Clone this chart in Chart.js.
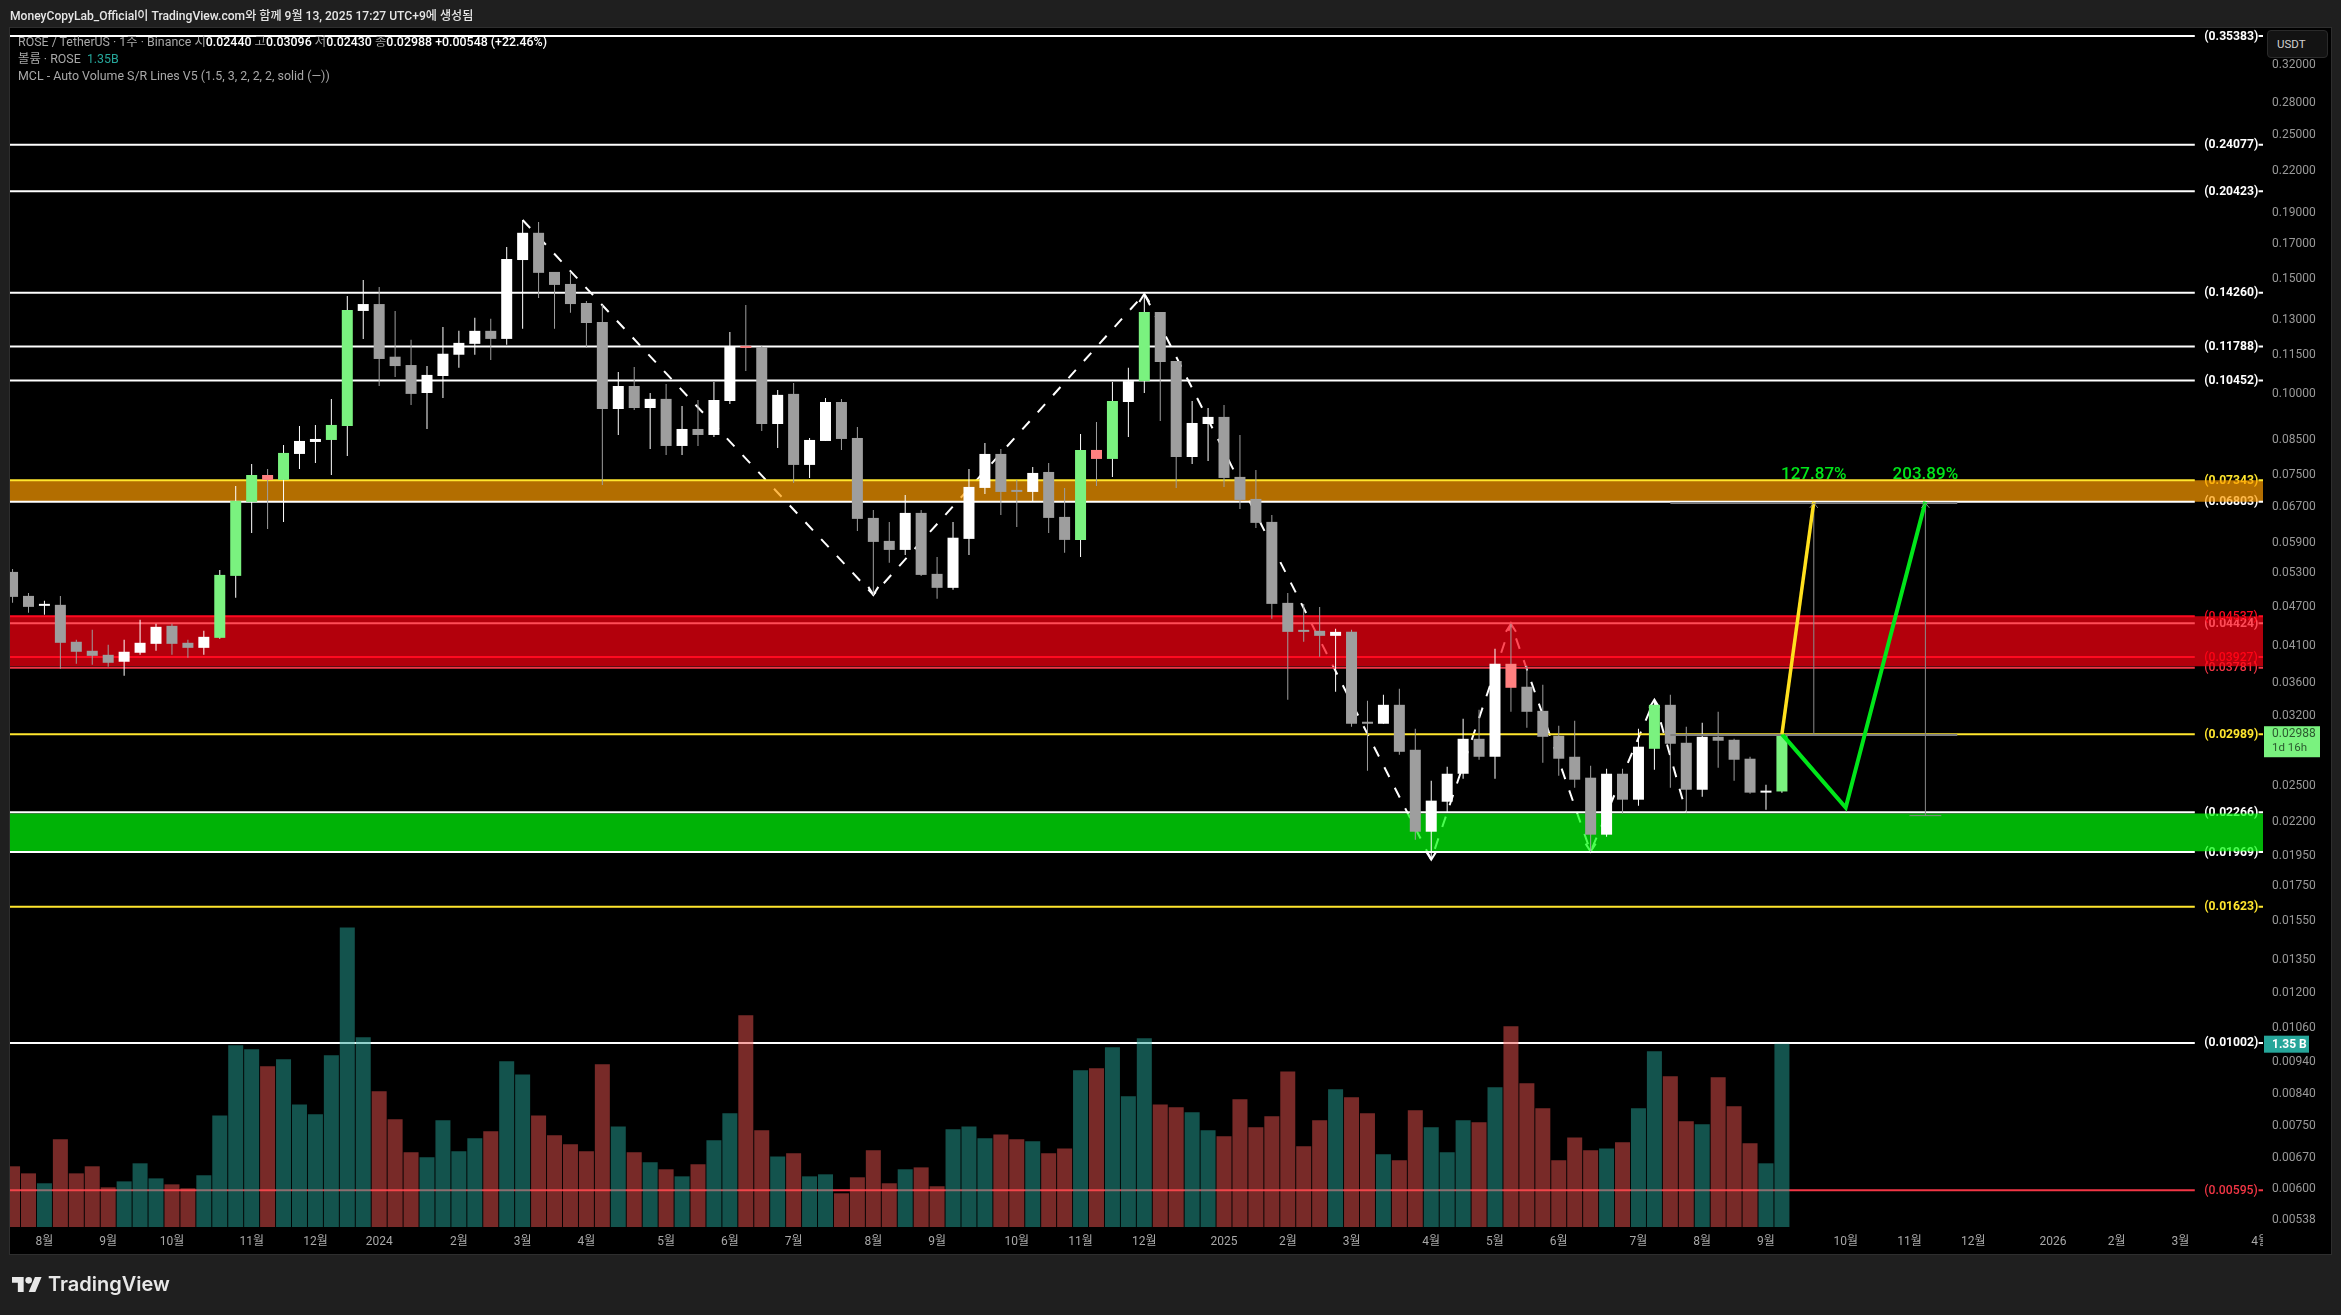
<!DOCTYPE html>
<html>
<head>
<meta charset="utf-8">
<title>ROSE / TetherUS</title>
<script src="https://cdn.jsdelivr.net/npm/chart.js@4/dist/chart.umd.js"></script>
<style>
  html, body { margin: 0; padding: 0; background: #1f1f1f; overflow: hidden; }
  #page { position: relative; width: 2341px; height: 1315px; font-family: Roboto, "Noto Sans CJK KR", sans-serif; }
  #pane { position: absolute; left: 9px; top: 27px; width: 2321px; height: 1226px; background: #000; border: 1px solid #2e2e2e; }
  canvas { position: absolute; left: 0; top: 0; }
  .txt { position: absolute; white-space: nowrap; }
  #credit { left: 10px; top: 6px; font-size: 12.1px; font-weight: 500; color: #e6e6e6; }
  .legend { left: 18px; font-size: 12.4px; line-height: 16px; color: #a8a8a8; }
  .legend b { color: #fff; font-weight: 500; }
  #usdt { position: absolute; left: 2267px; top: 30px; width: 59px; height: 26px; background: #131313; border: 1px solid #2a2a2a; border-radius: 4px; color: #d0d0d0; font-size: 11.5px; line-height: 26px; text-indent: 9px; }
  #logo { position: absolute; left: 12px; top: 1277px; }
  #brand { left: 48px; top: 1272px; font-family: Inter, sans-serif; font-weight: 600; font-size: 20px; color: #e8e8e8; }
</style>
</head>
<body>
<div id="page">
  <div id="pane"></div>
  <canvas id="chart" width="2341" height="1315"></canvas>
  <div class="txt" id="credit">MoneyCopyLab_Official이 TradingView.com와 함께 9월 13, 2025 17:27 UTC+9에 생성됨</div>
  <div class="txt legend" style="top:34px">ROSE / TetherUS · 1주 · Binance 시<b>0.02440</b> 고<b>0.03096</b> 저<b>0.02430</b> 종<b>0.02988</b> <b>+0.00548 (+22.46%)</b></div>
  <div class="txt legend" style="top:51px">볼륨 · ROSE &nbsp;<span style="color:#26a69a">1.35B</span></div>
  <div class="txt legend" style="top:68px">MCL - Auto Volume S/R Lines V5 (1.5, 3, 2, 2, 2, solid (—))</div>
  <div id="usdt">USDT</div>
  <svg id="logo" width="30" height="15" viewBox="0 4 36 18"><path fill="#e8e8e8" d="M14 22H7V11H0V4h14v18zM28 22h-8l7.5-18h8L28 22z"/><circle fill="#e8e8e8" cx="20" cy="8" r="4"/></svg>
  <div class="txt" id="brand">TradingView</div>
</div>
<script>
// weekly candles
const opens = [.05308,.04876,.04707,.04724,.04145,.04015,.03958,.03862,.03987,.04115,.04386,.04130,.04057,.04203,.05234,.06801,.07481,.07351,.08059,.08408,.08468,.08898,.1337,.1370,.1137,.1104,.1000,.1062,.1145,.1190,.1246,.1211,.1601,.1763,.1535,.1471,.1375,.1286,.09449,.1025,.09483,.09793,.08290,.08804,.08619,.09721,.1177,.1177,.08961,.09968,.07752,.08438,.09686,.08528,.06426,.05924,.05738,.06541,.05271,.05017,.05966,.07146,.08059,.07070,.07045,.07561,.06449,.05945,.08174,.07918,.09686,.1043,.1332,.1120,.07973,.08961,.09188,.07430,.06873,.06336,.04757,.04309,.04309,.04233,.04293,.03112,.03101,.03316,.02828,.02116,.02353,.02598,.02940,.02759,.03834,.03535,.03246,.02972,.02759,.02562,.02094,.02598,.02370,.02838,.03316,.02899,.02455,.02961,.02930,.02740,.02430,.02440];
const closes = [.04859,.04690,.04724,.04130,.04001,.03944,.03848,.04001,.04130,.04370,.04115,.04057,.04218,.05252,.06825,.07481,.07351,.08088,.08438,.08498,.08930,.1342,.1370,.1128,.1100,.09968,.1066,.1149,.1194,.1246,.1211,.1607,.1763,.1530,.1466,.1370,.1281,.09449,.1025,.09483,.09793,.08290,.08804,.08619,.09755,.1177,.1173,.08961,.09933,.07752,.08468,.09686,.08498,.06404,.05903,.05738,.06541,.05252,.05017,.05991,.07171,.08059,.07045,.07045,.07535,.06426,.05945,.08174,.07918,.09721,.1043,.1332,.1116,.07973,.08993,.09188,.07403,.06849,.06314,.04740,.04293,.04293,.04233,.04293,.03101,.03101,.03316,.02808,.02116,.02362,.02598,.02940,.02759,.03834,.03522,.03235,.02961,.02740,.02544,.02094,.02598,.02370,.02859,.03316,.02889,.02455,.02961,.02920,.02730,.02430,.02438,.02988];
const highs = [.05365,.04928,.04791,.04876,.04174,.04324,.04101,.04174,.04480,.04417,.04417,.04174,.04309,.05346,.07197,.07779,.07643,.08319,.08898,.08930,.09793,.1410,.1492,.1455,.1337,.1207,.1100,.1263,.1246,.1305,.1300,.1677,.1845,.1832,.1535,.1535,.1385,.1366,.1077,.1096,.1000,.1032,.09550,.09755,.1040,.1241,.1366,.1182,.1011,.1036,.08528,.09828,.09793,.08867,.06611,.06336,.06971,.06611,.05598,.06336,.07643,.08378,.08203,.07351,.07697,.07807,.07146,.08650,.09025,.1040,.1093,.1420,.1332,.1120,.09721,.09483,.09584,.08619,.07615,.06495,.04928,.04740,.04690,.04339,.04324,.03364,.03436,.03510,.03047,.02535,.02663,.03156,.03258,.04043,.04417,.03807,.03559,.03079,.03134,.02673,.02644,.02644,.03047,.03376,.03436,.03068,.03112,.03235,.02940,.02759,.02499,.02988];
const lows = [.04757,.04592,.04560,.03767,.03834,.03821,.03794,.03675,.03958,.04015,.03958,.03917,.03958,.04189,.04842,.06094,.06181,.06336,.07643,.07807,.07481,.08002,.1211,.1025,.1058,.09584,.08804,.09828,.1093,.1145,.1124,.1186,.1255,.1400,.1255,.1328,.1173,.07222,.08619,.09416,.08203,.08031,.08031,.08290,.08558,.09618,.1081,.08742,.08232,.07274,.07403,.08438,.08174,.06137,.04894,.05481,.05637,.05234,.04825,.04981,.05637,.06995,.06495,.06225,.06825,.06094,.05678,.05598,.07197,.07430,.08558,.1000,.09057,.07146,.07779,.07862,.07171,.06634,.06203,.04496,.03376,.04145,.03930,.03473,.03068,.02626,.03101,.02779,.02057,.01917,.02264,.02553,.02730,.02553,.03235,.03057,.02701,.02579,.02473,.01972,.02079,.02256,.02320,.02635,.02473,.02264,.02395,.02653,.02535,.02421,.02288,.02430];
// weeks the indicator paints bright
const surgeWeeks = [13,14,15,17,20,21,67,69,71,103,111];
const dropWeeks = [16,46,68,94];
// volume in billions
const volumes = [.447,.395,.322,.646,.395,.447,.292,.336,.469,.358,.314,.285,.381,.822,1.338,1.309,1.183,1.235,.903,.830,1.264,2.205,1.397,.999,.793,.550,.513,.786,.557,.653,.705,1.220,1.124,.822,.675,.609,.557,1.198,.741,.550,.476,.425,.373,.462,.638,.837,1.559,.712,.520,.543,.373,.388,.248,.366,.565,.322,.425,.439,.300,.719,.741,.653,.682,.646,.631,.543,.579,1.154,1.169,1.323,.962,1.390,.903,.881,.845,.712,.668,.940,.734,.815,1.146,.594,.786,1.014,.955,.837,.535,.491,.859,.734,.550,.786,.771,1.029,1.478,1.058,.874,.491,.660,.565,.579,.624,.874,1.294,1.110,.778,.756,1.102,.889,.616,.469,1.35];

const monthWeeks = [2,6,10,15,19,23,28,32,36,41,45,49,54,58,63,67,71,76,80,84,89,93,97,102,106,110,115,119,123,128,132,136,141];
const monthLabels = ['8월','9월','10월','11월','12월','2024','2월','3월','4월','5월','6월','7월','8월','9월','10월','11월','12월','2025','2월','3월','4월','5월','6월','7월','8월','9월','10월','11월','12월','2026','2월','3월','4월'];
const priceTicks = [.32,.28,.25,.22,.19,.17,.15,.13,.115,.1,.085,.075,.067,.059,.053,.047,.041,.036,.032,.025,.022,.0195,.0175,.0155,.0135,.012,.0106,.0094,.0084,.0075,.0067,.006,.00538];

// auto S/R levels
const whiteLevels = [.35383,.24077,.20423,.14260,.11788,.10452,.06803,.04424,.02266,.01969,.01002];
const yellowLevels = [.07343,.02989,.01623];
const redLevels = [.04537,.03927,.03781,.00595];

// dashed zigzag pivots
const pivotWeeks = [32,54,71,89,94,99,103,105];
const pivotPrices = [.1845,.04894,.1420,.01917,.04417,.01972,.03376,.02264];

// drawn projection
const yellowWeeks = [111,113];
const yellowPrices = [.02989,.06803];
const greenWeeks = [111,115,120];
const greenPrices = [.02989,.02304,.06803];
const gainLabels = ['127.87%','203.89%'];
const gainWeeks = [113,120];

const xMin = -0.16, xMax = 141.18;
const lineEnd = 136.9, labelStart = 137.5, dashStart = 140.9;
const LABEL_FONT = 'Roboto, "Noto Sans CJK KR", sans-serif';

const upColor = '#ffffff', downColor = '#9e9e9e', surgeColor = '#7af27f', dropColor = '#ff8080';

function levelColor(v) {
  if (yellowLevels.includes(v)) return '#ffe62e';
  if (v === .04537 || v === .03927) return '#ff0a20';
  if (redLevels.includes(v)) return '#f23645';
  return '#ffffff';
}

function lineSet(points, extra) {
  return Object.assign({ type: 'line', data: points, borderWidth: 2, pointRadius: 0, tension: 0, fill: false, yAxisID: 'y' }, extra);
}

function levelSet(v) {
  // this white level runs under the red zone, so it comes out pink
  const c = v === .04424 ? '#ff4d58' : levelColor(v);
  return lineSet([{x: xMin, y: v}, {x: lineEnd, y: v}, {x: dashStart, y: null}, {x: dashStart, y: v}, {x: xMax, y: v}], { borderColor: c, order: 5 });
}

function bandSets(top, bottom, color) {
  return [
    lineSet([{x: xMin, y: top}, {x: xMax, y: top}], { borderWidth: 0, fill: '+1', backgroundColor: color, order: 6 }),
    lineSet([{x: xMin, y: bottom}, {x: xMax, y: bottom}], { borderWidth: 0, order: 6 })
  ];
}

const weeks = opens.map((o, i) => i);

function candleColor(i) {
  if (surgeWeeks.includes(i)) return surgeColor;
  if (dropWeeks.includes(i)) return dropColor;
  return closes[i] >= opens[i] ? upColor : downColor;
}

const datasets = [
  lineSet(pivotWeeks.map((w, i) => ({x: w, y: pivotPrices[i]})), { borderColor: '#fff', borderDash: [11, 12], order: 7 }),
  ...bandSets(.07343, .06803, 'rgba(255,157,0,.7)'),
  ...bandSets(.04537, .03800, 'rgba(255,0,17,.7)'),
  ...bandSets(.02256, .01975, 'rgba(0,255,9,.7)'),
  ...[...whiteLevels, ...yellowLevels, ...redLevels].map(levelSet),
  {
    type: 'bar', yAxisID: 'vol', order: 4, grouped: false, barThickness: 15, inflateAmount: 0,
    data: volumes.map((v, i) => ({x: i, y: v})),
    backgroundColor: weeks.map(i => closes[i] >= opens[i] ? 'rgba(38,166,154,.5)' : 'rgba(239,83,80,.5)')
  },
  {
    type: 'bar', yAxisID: 'y', order: 3, grouped: false, barThickness: 1, inflateAmount: 0,
    data: weeks.map(i => ({x: i, y: [lows[i], highs[i]]})),
    backgroundColor: weeks.map(i => closes[i] >= opens[i] ? '#ffffff' : downColor)
  },
  {
    type: 'bar', yAxisID: 'y', order: 2, grouped: false, barThickness: 11, inflateAmount: 0, minBarLength: 2,
    data: weeks.map(i => ({x: i, y: [opens[i], closes[i]]})),
    backgroundColor: weeks.map(candleColor)
  },
  lineSet([{x: 104, y: .06777}, {x: 122, y: .06777}], { borderColor: '#808080', order: 1.5 }),
  lineSet([{x: 104, y: .02979}, {x: 122, y: .02979}], { borderColor: '#808080', order: 1.5 }),
  lineSet([{x: 113, y: .02979}, {x: 113, y: .06777}], { borderColor: '#8a8a8a', borderWidth: 1, order: 1.5 }),
  lineSet([{x: 120, y: .0224}, {x: 120, y: .06777}], { borderColor: '#8a8a8a', borderWidth: 1, order: 1.5 }),
  lineSet([{x: 119, y: .0224}, {x: 121, y: .0224}], { borderColor: '#8a8a8a', borderWidth: 1, order: 1.5 }),
  lineSet(yellowWeeks.map((w, i) => ({x: w, y: yellowPrices[i]})), { borderColor: '#ffe01e', borderWidth: 3.5, order: 1 }),
  lineSet(greenWeeks.map((w, i) => ({x: w, y: greenPrices[i]})), { borderColor: '#00e61a', borderWidth: 4, order: 1 })
];

function chevron(c, px, py, dir, arm, rise) {
  c.beginPath();
  c.moveTo(px - arm, py + dir * rise);
  c.lineTo(px, py);
  c.lineTo(px + arm, py + dir * rise);
  c.stroke();
}

// level labels and pivot arrowheads sit under the coloured zones
const underLayer = {
  id: 'underLayer',
  beforeDatasetsDraw(chart) {
    const c = chart.ctx, x = chart.scales.x, y = chart.scales.y;
    c.save();
    c.textAlign = 'left';
    c.textBaseline = 'middle';
    [...whiteLevels, ...yellowLevels, ...redLevels].forEach(v => {
      c.font = (redLevels.includes(v) ? '500' : 'bold') + ' 12.2px ' + LABEL_FONT;
      c.fillStyle = levelColor(v);
      c.fillText('(' + v.toFixed(5) + ')', x.getPixelForValue(labelStart), y.getPixelForValue(v) + 0.5);
    });
    c.strokeStyle = '#fff';
    c.lineWidth = 2;
    pivotWeeks.forEach((w, i) => {
      if (i === 0 || i === pivotWeeks.length - 1) return;
      const dir = pivotPrices[i] < pivotPrices[i - 1] ? -1 : 1;
      chevron(c, x.getPixelForValue(w), y.getPixelForValue(pivotPrices[i]), dir, 5, 8);
    });
    c.textAlign = 'center';
    c.font = '500 17px ' + LABEL_FONT;
    c.fillStyle = '#00e61a';
    gainLabels.forEach((t, i) => c.fillText(t, x.getPixelForValue(gainWeeks[i]), 475));
    c.restore();
  }
};

// last price tags
const overLayer = {
  id: 'overLayer',
  afterDraw(chart) {
    const c = chart.ctx, x = chart.scales.x, y = chart.scales.y, vol = chart.scales.vol;
    c.save();
    c.fillStyle = '#000';
    c.fillRect(2263, 1228, 18, 25);
    c.strokeStyle = '#8a8a8a';
    c.lineWidth = 1;
    gainWeeks.forEach(w => chevron(c, x.getPixelForValue(w), y.getPixelForValue(.06777), 1, 4, 5));
    c.textBaseline = 'middle';

    const last = closes[closes.length - 1];
    const ly = y.getPixelForValue(last);
    c.fillStyle = surgeColor;
    c.fillRect(2264, ly - 8, 56, 31);
    c.textAlign = 'left';
    c.fillStyle = '#2c5a2f';
    c.font = '12px ' + LABEL_FONT;
    c.fillText(last.toFixed(5), 2272, ly);
    c.font = '11.5px ' + LABEL_FONT;
    c.fillText('1d 16h', 2272, ly + 14);

    const lastVol = volumes[volumes.length - 1];
    const vy = vol.getPixelForValue(lastVol);
    c.fillStyle = '#26a69a';
    c.fillRect(2264, vy - 8, 45, 17);
    c.fillStyle = '#fff';
    c.font = 'bold 12px ' + LABEL_FONT;
    c.fillText(lastVol.toFixed(2) + ' B', 2272, vy + 1);
    c.restore();
  }
};

const ctx = document.getElementById('chart');

new Chart(ctx, {
  type: 'line',
  data: { datasets: datasets },
  plugins: [underLayer, overLayer],
  options: {
    responsive: false,
    animation: false,
    devicePixelRatio: 1,
    layout: { padding: { left: 10, top: 28, right: 10, bottom: 61 } },
    plugins: { legend: { display: false }, tooltip: { enabled: false } },
    scales: {
      x: {
        type: 'linear', offset: false, min: xMin, max: xMax,
        grid: { display: false, offset: false, drawTicks: false }, border: { display: false },
        afterBuildTicks: s => { s.ticks = monthWeeks.map(v => ({ value: v })); },
        afterFit: s => { s.height = 27; },
        ticks: {
          autoSkip: false, maxRotation: 0, padding: 8, color: '#a8a8a8',
          font: { size: 12, family: LABEL_FONT },
          callback: v => monthLabels[monthWeeks.indexOf(v)]
        }
      },
      y: {
        type: 'logarithmic', position: 'right', min: .005222, max: .3640, beginAtZero: false,
        grid: { display: false, drawTicks: false }, border: { display: false },
        afterBuildTicks: s => { s.ticks = priceTicks.map(v => ({ value: v })); },
        afterFit: s => { s.width = 68; },
        ticks: {
          autoSkip: false, padding: 9, labelOffset: 1, color: '#9a9a9a',
          font: { size: 12, family: LABEL_FONT },
          callback: v => v.toFixed(5)
        }
      },
      vol: { type: 'linear', display: false, min: 0, max: 8.83, beginAtZero: true }
    }
  }
});
</script>
</body>
</html>
